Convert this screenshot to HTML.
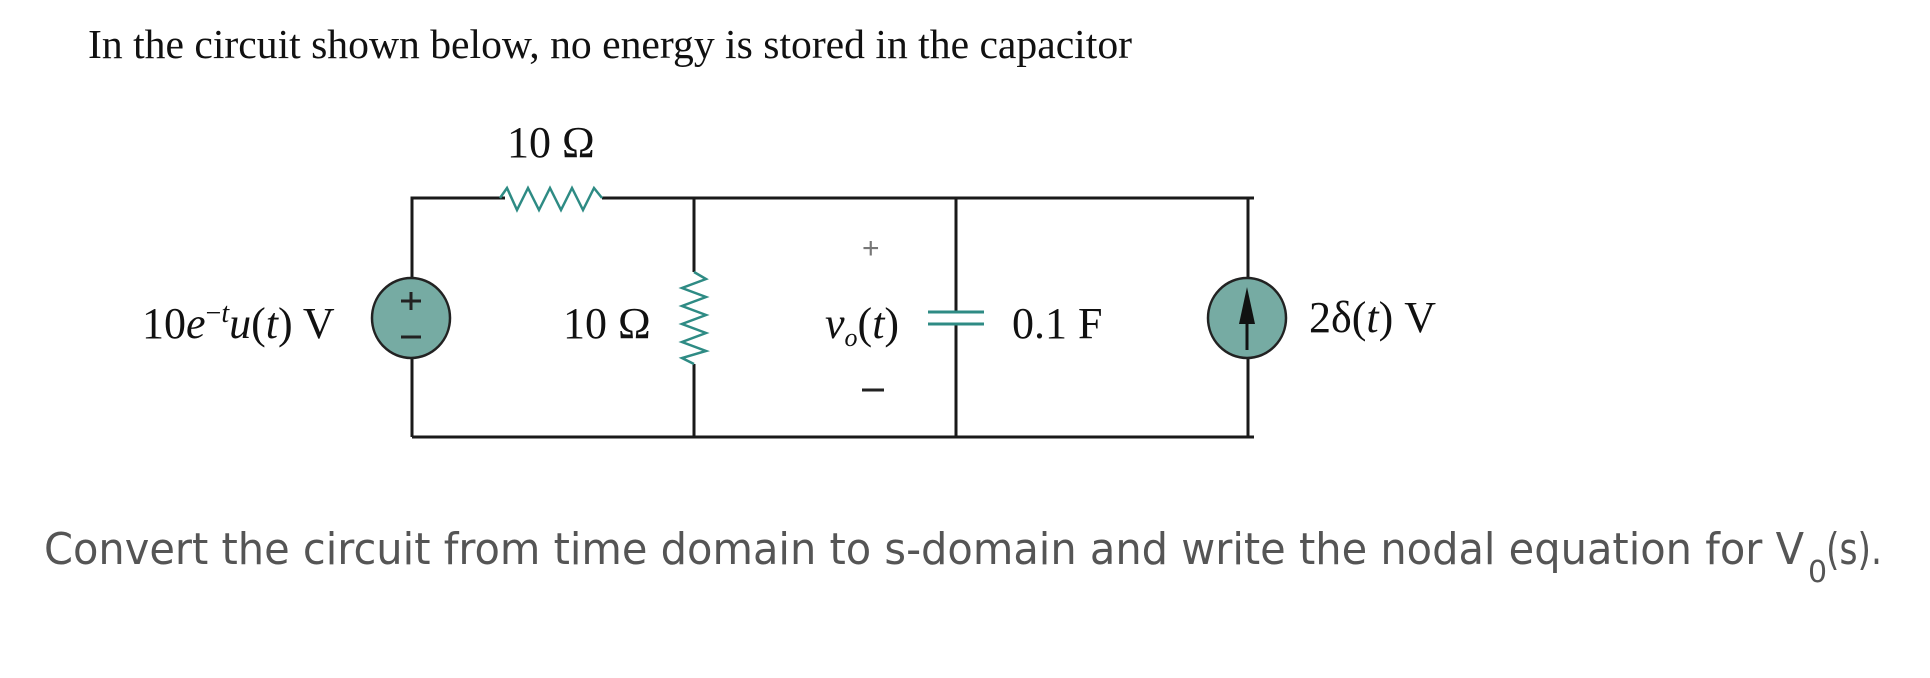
<!DOCTYPE html>
<html><head><meta charset="utf-8"><style>
html,body{margin:0;padding:0;background:#fff;}
svg{display:block;}
</style></head><body>
<svg width="1930" height="678" viewBox="0 0 1930 678" xmlns="http://www.w3.org/2000/svg">
<text x="88" y="58" font-family="Liberation Serif, serif" font-size="41" fill="#111" textLength="1044" lengthAdjust="spacingAndGlyphs">In the circuit shown below, no energy is stored in the capacitor</text>

<g stroke="#1a1a1a" stroke-width="3" fill="none">
<polyline points="505,198 412,198 412,278"/>
<line x1="412" y1="358" x2="412" y2="437"/>
<line x1="412" y1="437" x2="1254" y2="437"/>
<line x1="602" y1="198" x2="1254" y2="198"/>
<line x1="694" y1="198" x2="694" y2="272"/>
<line x1="694" y1="364" x2="694" y2="437"/>
<line x1="956" y1="198" x2="956" y2="312"/>
<line x1="956" y1="324" x2="956" y2="437"/>
<line x1="1248" y1="198" x2="1248" y2="278"/>
<line x1="1248" y1="358" x2="1248" y2="437"/>
<line x1="1254" y1="198" x2="1254" y2="198"/>
</g>
<g stroke="#2e8b84" stroke-width="2.5" fill="none">
<polyline points="500,198 507,188 517,210 528,188 539,210 550,188 561,210 572,188 583,210 594,188 602,198"/>
<polyline points="694,272 706,279 682,288 706,297 682,306 706,315 682,324 706,333 682,342 706,351 682,358 694,364"/>
<line x1="928" y1="312" x2="984" y2="312" stroke-width="3"/>
<line x1="928" y1="324" x2="984" y2="324" stroke-width="3"/>
</g>
<ellipse cx="411" cy="318" rx="39" ry="40" fill="#76aba3" stroke="#222" stroke-width="2.5"/>
<line x1="401" y1="301" x2="421" y2="301" stroke="#222" stroke-width="3"/>
<line x1="411" y1="292" x2="411" y2="310" stroke="#222" stroke-width="3"/>
<line x1="401" y1="337" x2="421" y2="337" stroke="#222" stroke-width="3"/>
<ellipse cx="1247" cy="318" rx="39" ry="40" fill="#76aba3" stroke="#222" stroke-width="2.5"/>
<line x1="1247" y1="350" x2="1247" y2="305" stroke="#111" stroke-width="3"/>
<polygon points="1247,287 1239,324 1255,324" fill="#111"/>

<g font-family="Liberation Serif, serif" font-size="44" fill="#111">
<text x="507" y="157">10 Ω</text>
<text x="142" y="338">10<tspan font-style="italic">e</tspan><tspan font-size="28" dy="-16">−<tspan font-style="italic">t</tspan></tspan><tspan dy="16" font-style="italic">u</tspan>(<tspan font-style="italic">t</tspan>) V</text>
<text x="563" y="338">10 Ω</text>
<text x="825" y="338" font-style="italic">v<tspan font-size="26" dy="8">o</tspan><tspan dy="-8" font-style="normal">(</tspan>t<tspan font-style="normal">)</tspan></text>
<text x="1012" y="338">0.1 F</text>
<text x="1309" y="332">2δ(<tspan font-style="italic">t</tspan>) V</text>
</g>
<text x="862" y="258" font-family="Liberation Sans, sans-serif" font-size="30" fill="#777">+</text>
<line x1="862" y1="390" x2="884" y2="390" stroke="#222" stroke-width="3"/>

<text x="44" y="564" font-family="DejaVu Sans, Liberation Sans, sans-serif" font-size="44" fill="#555" textLength="1760" lengthAdjust="spacingAndGlyphs">Convert the circuit from time domain to s-domain and write the nodal equation for V</text>
<text x="1808" y="582" font-family="DejaVu Sans, Liberation Sans, sans-serif" font-size="30" fill="#555">0</text>
<text x="1826" y="564" font-family="DejaVu Sans, Liberation Sans, sans-serif" font-size="44" fill="#555" textLength="56" lengthAdjust="spacingAndGlyphs">(s).</text>
</svg>
</body></html>
